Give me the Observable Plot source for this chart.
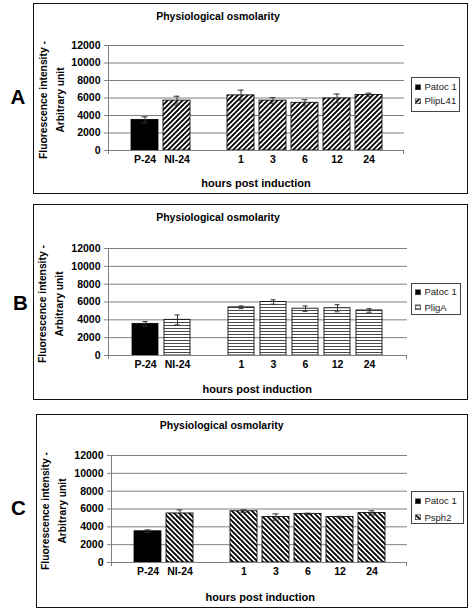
<!DOCTYPE html>
<html>
<head>
<meta charset="utf-8">
<script src="https://cdn.jsdelivr.net/npm/d3@7"></script>
<script src="https://cdn.jsdelivr.net/npm/@observablehq/plot@0.6"></script>
<style>
  html, body { margin: 0; padding: 0; background: #fff; }
  #page { position: relative; width: 470px; height: 610px; font-family: "Liberation Sans", Arial, sans-serif; color: #000; overflow: hidden; }
  .box { position: absolute; border: 1px solid #111; box-sizing: border-box; pointer-events: none; }
  .c { position: absolute; white-space: nowrap; line-height: 1; transform: translate(-50%, -50%); }
  .b { font-weight: bold; }
  .ylab { position: absolute; white-space: nowrap; font-weight: bold; font-size: 10.3px; line-height: 17px; text-align: center; transform: translate(-50%, -50%) rotate(-90deg); }
  .legend { position: absolute; border: 1px solid #444; box-sizing: border-box; background: #fff; font-size: 9.5px; color: #222; }
  .legend .row { position: absolute; left: 3px; display: flex; align-items: center; transform: translateY(-50%); white-space: nowrap; line-height: 1; }
  .legend svg { margin-right: 4px; display: block; }
</style>
</head>
<body>
<div id="page"></div>
<script>
// ---------- data ----------
const categories = ["P-24", "NI-24", "1", "3", "6", "12", "24"];
const xDomain = ["P-24", "NI-24", "", "1", "3", "6", "12", "24"];
const yTicks = [0, 2000, 4000, 6000, 8000, 10000, 12000];
const controlSeries = "Patoc 1";
const seriesA = "PlipL41";
const seriesB = "PligA";
const seriesC = "Psph2";
const valuesA = [3500, 5700, 6300, 5700, 5450, 5950, 6350];
const errorsA = [350, 500, 600, 350, 350, 500, 200];
const valuesB = [3550, 4000, 5400, 6000, 5250, 5300, 5050];
const errorsB = [250, 550, 150, 250, 300, 400, 200];
const valuesC = [3500, 5500, 5750, 5100, 5450, 5100, 5550];
const errorsC = [150, 400, 150, 350, 80, 80, 250];
const titleText = "Physiological osmolarity";
const yLabelText = ["Fluorescence intensity -", "Arbitrary unit"];
const xLabelText = "hours post induction";

// ---------- layout ----------
const FONT = '"Liberation Sans", Arial, sans-serif';
const panels = [
  { letter: "A", series: seriesA, values: valuesA, errors: errorsA, pattern: "patA",
    top: 3, height: 190, ml: 108, mr: 66, mt: 42, mb: 43, pi: 0.165, po: 0.665,
    box: [33, 3, 435, 191], title: [218, 16], ylab: [51.5, 100], xlab: [256, 183], letterPos: [18, 97],
    legend: [410.5, 77, 49, 34.5], rows: [9, 22.8] },
  { letter: "B", series: seriesB, values: valuesB, errors: errorsB, pattern: "patB",
    top: 204, height: 195, ml: 108, mr: 63, mt: 44, mb: 44, pi: 0.18, po: 0.63,
    box: [33, 204, 435, 196], title: [218, 216.7], ylab: [50.5, 304], xlab: [257.3, 389.3], letterPos: [20.5, 302.5],
    legend: [410.5, 283, 50, 31.5], rows: [7.8, 23.6] },
  { letter: "C", series: seriesC, values: valuesC, errors: errorsC, pattern: "patC",
    top: 414, height: 193, ml: 111, mr: 63, mt: 41, mb: 45, pi: 0.16, po: 0.62,
    box: [36, 414, 432, 194], title: [221.7, 425], ylab: [54, 511], xlab: [260.3, 596.7], letterPos: [18.5, 508],
    legend: [410.5, 491, 53, 32.5], rows: [9.2, 25.6] }
];

const page = document.getElementById("page");

function addPatterns(defs) {
  const a = defs.append("pattern").attr("id", "patA").attr("patternUnits", "userSpaceOnUse").attr("width", 5).attr("height", 5);
  a.append("rect").attr("width", 5).attr("height", 5).attr("fill", "#fff");
  a.append("path").attr("d", "M-1,1 l2,-2 M0,5 l5,-5 M4,6 l2,-2").attr("stroke", "#000").attr("stroke-width", 1.9);
  const b = defs.append("pattern").attr("id", "patB").attr("patternUnits", "userSpaceOnUse").attr("width", 4).attr("height", 3);
  b.append("rect").attr("width", 4).attr("height", 3).attr("fill", "#fff");
  b.append("rect").attr("y", 1).attr("width", 4).attr("height", 1).attr("fill", "#4a4a4a");
  const c = defs.append("pattern").attr("id", "patC").attr("patternUnits", "userSpaceOnUse").attr("width", 5).attr("height", 5);
  c.append("rect").attr("width", 5).attr("height", 5).attr("fill", "#fff");
  c.append("path").attr("d", "M-1,4 l2,2 M0,0 l5,5 M4,-1 l2,2").attr("stroke", "#000").attr("stroke-width", 1.9);
}

panels.forEach((p, k) => {
  const data = categories.map((c, i) => ({ cat: c, v: p.values[i], e: p.errors[i], control: i === 0 }));
  const ctrl = data.filter(d => d.control);
  const strain = data.filter(d => !d.control);
  const CAP = 10.5;
  const plot = Plot.plot({
    width: 470, height: p.height,
    marginLeft: p.ml, marginRight: p.mr, marginTop: p.mt, marginBottom: p.mb,
    style: { fontFamily: FONT, fontSize: "10.5px", fontWeight: "bold", background: "transparent", overflow: "visible" },
    x: { type: "band", domain: xDomain, paddingInner: p.pi, paddingOuter: p.po, label: null },
    y: { domain: [0, 12000], label: null },
    marks: [
      Plot.gridY(yTicks, { stroke: "#808080", strokeOpacity: 1 }),
      Plot.barY(ctrl, { x: "cat", y: "v", fill: "#000", stroke: "#000", strokeWidth: 0.8 }),
      Plot.barY(strain, { x: "cat", y: "v", fill: `url(#${p.pattern})`, stroke: "#111", strokeWidth: 0.9 }),
      Plot.ruleX(data, { x: "cat", y1: d => d.v - d.e, y2: d => d.v + d.e, stroke: "#333" }),
      Plot.tickY(data, { x: "cat", y: d => d.v + d.e, stroke: "#333", insetLeft: CAP, insetRight: CAP }),
      Plot.tickY(data, { x: "cat", y: d => d.v - d.e, stroke: "#333", insetLeft: CAP, insetRight: CAP }),
      Plot.axisY(yTicks, { tickSize: 4, tickPadding: 4, tickFormat: d => String(d), stroke: "#808080", fill: "#000", label: null }),
      Plot.axisX({ tickSize: 0, tickPadding: 5, tickFormat: d => d, fill: "#000", label: null }),
      Plot.ruleY([0], { stroke: "#808080" })
    ]
  });
  plot.style.position = "absolute";
  plot.style.left = "0px";
  plot.style.top = p.top + "px";
  plot.style.maxWidth = "none";
  const svg = d3.select(plot);
  if (k === 0) addPatterns(svg.insert("defs", ":first-child"));
  const ys = plot.scale("y");
  const y0 = ys.apply(0), yTop = ys.apply(12000);
  const xr = 470 - p.mr;
  const g = svg.append("g").attr("stroke", "#808080").attr("fill", "none");
  g.append("line").attr("x1", p.ml + 0.5).attr("x2", p.ml + 0.5).attr("y1", yTop).attr("y2", y0 + 4);
  g.append("line").attr("x1", xr - 0.5).attr("x2", xr - 0.5).attr("y1", y0).attr("y2", y0 + 4);
  page.appendChild(plot);

  // border box
  const box = document.createElement("div");
  box.className = "box";
  Object.assign(box.style, { left: p.box[0] + "px", top: p.box[1] + "px", width: p.box[2] + "px", height: p.box[3] + "px" });
  page.appendChild(box);

  // title
  const t = document.createElement("div");
  t.className = "c b"; t.textContent = titleText;
  Object.assign(t.style, { left: p.title[0] + "px", top: p.title[1] + "px", fontSize: "10.5px" });
  page.appendChild(t);

  // y label
  const yl = document.createElement("div");
  yl.className = "ylab"; yl.innerHTML = yLabelText.join("<br>");
  Object.assign(yl.style, { left: p.ylab[0] + "px", top: p.ylab[1] + "px" });
  page.appendChild(yl);

  // x label
  const xl = document.createElement("div");
  xl.className = "c b"; xl.textContent = xLabelText;
  Object.assign(xl.style, { left: p.xlab[0] + "px", top: p.xlab[1] + "px", fontSize: "11px" });
  page.appendChild(xl);

  // panel letter
  const L = document.createElement("div");
  L.className = "c b"; L.textContent = p.letter;
  Object.assign(L.style, { left: p.letterPos[0] + "px", top: p.letterPos[1] + "px", fontSize: "20.5px" });
  page.appendChild(L);

  // legend
  const lg = document.createElement("div");
  lg.className = "legend";
  Object.assign(lg.style, { left: p.legend[0] + "px", top: p.legend[1] + "px", width: p.legend[2] + "px", height: p.legend[3] + "px" });
  const entries = [[controlSeries, "#000"], [p.series, `url(#${p.pattern})`]];
  entries.forEach(([name, fill], i) => {
    const r = document.createElement("div");
    r.className = "row";
    r.style.top = p.rows[i] + "px";
    r.innerHTML = `<svg width="6" height="6"><rect x="0.5" y="0.5" width="5" height="5" fill="${fill}" stroke="#333" stroke-width="0.7"/></svg><span>${name}</span>`;
    lg.appendChild(r);
  });
  page.appendChild(lg);
});
</script>
</body>
</html>
